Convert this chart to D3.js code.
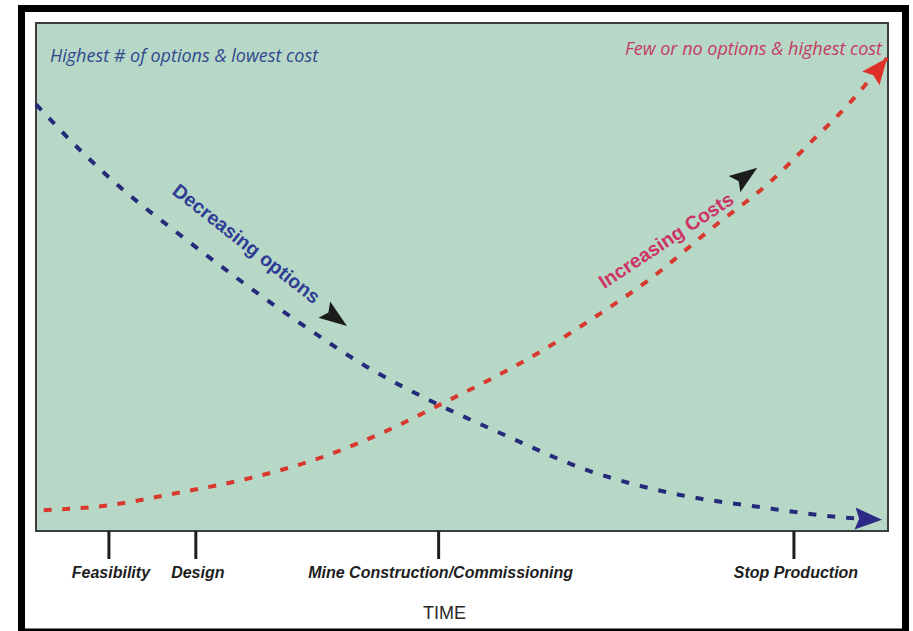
<!DOCTYPE html>
<html><head><meta charset="utf-8">
<script src="https://cdn.jsdelivr.net/npm/d3@7"></script>
<style>html,body{margin:0;padding:0;background:#fff;} svg{display:block}</style>
</head><body><svg id="c" width="913" height="631"></svg>
<script>
// ---- data (time 0-100, level 0-100) ----
const timeTicks = [8.5, 18.7, 47.2, 88.9];
const phaseLabels = ["Feasibility", "Design", "Mine Construction/Commissioning", "Stop Production"];

const optionsTime  = [0, 5.16, 9.86, 16.9, 31.0, 38.85, 46.6, 54.46, 64.67, 75.6, 85.0, 95.2, 99.3];
const optionsLevel = [84.0, 75.0, 67.7, 58.3, 40.9, 32.3, 25.4, 19.3, 12.0, 7.1, 4.7, 2.6, 2.2];

const costsTime  = [0.9, 7.86, 16.55, 25.1, 33.7, 41.9, 47.8, 53.6, 59.5, 65.4, 72.07, 79.1, 86.15, 90.85, 95.5, 99.9];
const costsLevel = [4.1, 4.92, 7.48, 10.4, 14.6, 20.3, 25.2, 30.1, 35.6, 41.9, 49.6, 59.3, 68.7, 76.4, 84.25, 93.1];

const cornerNotes = ["Highest # of options & lowest cost", "Few or no options & highest cost"];
const curveNotes = ["Decreasing options", "Increasing Costs"];
const axisTitle = "TIME";

// ---- layout ----
const svg = d3.select("#c");
const plot = {left: 36, right: 888, top: 23, bottom: 531};
const x = d3.scaleLinear().domain([0, 100]).range([plot.left, plot.right]);
const y = d3.scaleLinear().domain([0, 100]).range([plot.bottom, plot.top]);

// outer frame
svg.append("rect").attr("x", 21.5).attr("y", 8.5).attr("width", 884).attr("height", 623.5)
  .attr("fill", "#fff").attr("stroke", "#000").attr("stroke-width", 7);

// plot area
svg.append("rect").attr("x", plot.left).attr("y", plot.top)
  .attr("width", plot.right - plot.left).attr("height", plot.bottom - plot.top)
  .attr("fill", "#b8d8c7").attr("stroke", "#3a3f3c").attr("stroke-width", 2);

// markers
const defs = svg.append("defs");
function marker(id, color, L, W) {
  defs.append("marker").attr("id", id)
    .attr("markerUnits", "userSpaceOnUse")
    .attr("viewBox", `${-L - 2} ${-W / 2 - 2} ${L + 4} ${W + 4}`)
    .attr("markerWidth", L + 4).attr("markerHeight", W + 4)
    .attr("refX", 0).attr("refY", 0).attr("orient", "auto")
    .append("path")
    .attr("d", `M0,0 L${-L},${-W / 2} L${-L * 0.85},0 L${-L},${W / 2} Z`)
    .attr("fill", color);
}
marker("mBlue", "#2d2a87", 27, 22);
marker("mRed", "#e0302a", 26, 22);

const line = d3.line().x(d => x(d[0])).y(d => y(d[1])).curve(d3.curveMonotoneX);

const optionsData = optionsTime.map((t, i) => [t, optionsLevel[i]]);
const costsData = costsTime.map((t, i) => [t, costsLevel[i]]);

svg.append("path").datum(optionsData).attr("d", line)
  .attr("fill", "none").attr("stroke", "#262a7a").attr("stroke-width", 4)
  .attr("stroke-dasharray", "8,11").attr("marker-end", "url(#mBlue)");

svg.append("path").datum(costsData).attr("d", line)
  .attr("fill", "none").attr("stroke", "#d8392f").attr("stroke-width", 4)
  .attr("stroke-dasharray", "8,10.5").attr("marker-end", "url(#mRed)");

// black direction arrows
const arrows = [{t: 36.5, v: 40.35, angle: 36}, {t: 84.66, v: 71.5, angle: -35.6}];
arrows.forEach(a => {
  const L = 28, W = 20;
  svg.append("path")
    .attr("d", `M0,0 L${-L},${-W / 2} L${-L * 0.82},0 L${-L},${W / 2} Z`)
    .attr("transform", `translate(${x(a.t)},${y(a.v)}) rotate(${a.angle})`)
    .attr("fill", "#1c1c1c");
});

// curve labels
const notePos = [
  {t: 15.85, v: 66.5, angle: 38, color: "#2e3d93"},
  {t: 66.7, v: 47.6, angle: -33.5, color: "#cc3366"}
];
curveNotes.forEach((txt, i) => {
  const p = notePos[i];
  svg.append("text").text(txt)
    .attr("transform", `translate(${x(p.t)},${y(p.v)}) rotate(${p.angle})`)
    .attr("font-family", "Liberation Sans, Arial, sans-serif")
    .attr("font-weight", "bold").attr("font-size", 19.5)
    .attr("fill", p.color);
});

// corner notes
svg.append("text").text(cornerNotes[0])
  .attr("x", x(1.64)).attr("y", y(92.3))
  .attr("font-family", "Open Sans, sans-serif").attr("font-style", "italic")
  .attr("font-size", 18).attr("fill", "#30498f");
svg.append("text").text(cornerNotes[1])
  .attr("x", x(99.3)).attr("y", y(93.7)).attr("text-anchor", "end")
  .attr("font-family", "Open Sans, sans-serif").attr("font-style", "italic")
  .attr("font-size", 18).attr("fill", "#c43a68");

// time axis
const axis = d3.axisBottom(x).tickValues(timeTicks)
  .tickFormat((d, i) => phaseLabels[i]).tickSize(28).tickPadding(8);
const gAxis = svg.append("g").attr("transform", `translate(0,${plot.bottom})`).call(axis);
gAxis.select(".domain").remove();
gAxis.selectAll(".tick line").attr("stroke", "#1e1e1e").attr("stroke-width", 3);
gAxis.selectAll(".tick text")
  .attr("font-family", "Liberation Sans, Arial, sans-serif")
  .attr("font-weight", "bold").attr("font-style", "italic")
  .attr("font-size", 16).attr("fill", "#1e1e1e").attr("dx", 2);

svg.append("text").text(axisTitle)
  .attr("x", 444.5).attr("y", 619).attr("text-anchor", "middle")
  .attr("font-family", "Liberation Sans, Arial, sans-serif")
  .attr("font-size", 18).attr("fill", "#2a2a2a");
</script>
</body></html>
